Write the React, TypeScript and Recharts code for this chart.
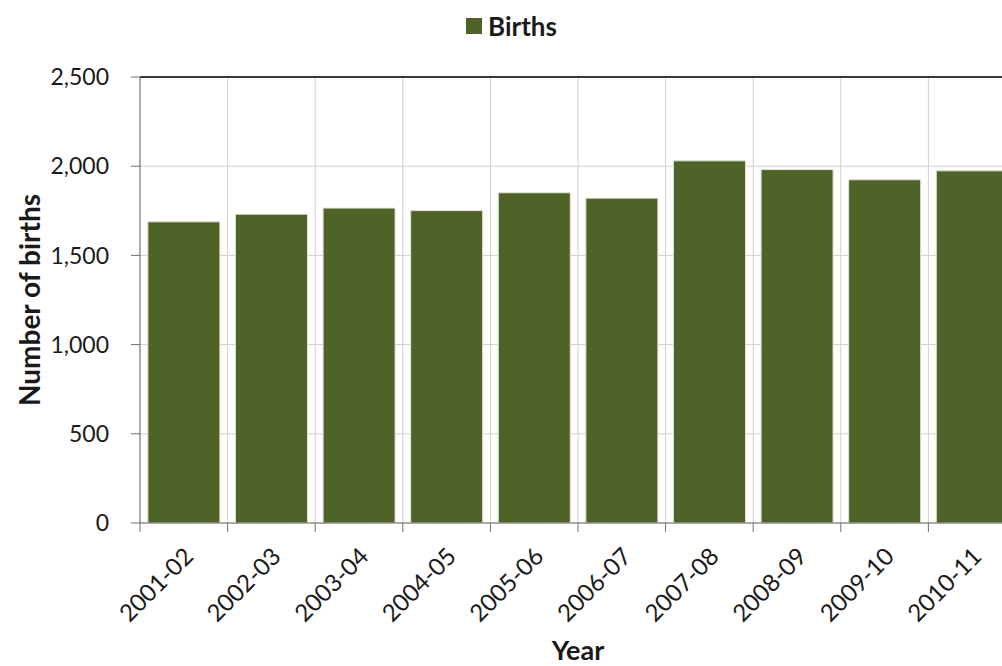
import {
  BarChart, Bar, XAxis, YAxis, CartesianGrid, ReferenceLine,
} from "recharts"

const years = [
  "2001-02", "2002-03", "2003-04", "2004-05", "2005-06",
  "2006-07", "2007-08", "2008-09", "2009-10", "2010-11",
]
const births = [1688, 1731, 1765, 1751, 1851, 1821, 2030, 1981, 1924, 1974]
const yTicks = [0, 500, 1000, 1500, 2000, 2500]

const data = years.map((year, i) => ({ year, births: births[i] }))

const CHART_W = 1020
const CHART_H = 666
const Y_AXIS_W = 140
const RIGHT = 4
const PLOT_W = CHART_W - Y_AXIS_W - RIGHT
const HALF_BAND = PLOT_W / years.length / 2

const FONT = "Lato, 'Open Sans', sans-serif"
const OLIVE = "#4f6228"
const AXIS = "#6e6e6e"

function YearTick({ x, y, payload }: any) {
  const tx = x + 11
  const ty = y + 35
  return (
    <g>
      <line x1={x - HALF_BAND} y1={y} x2={x - HALF_BAND} y2={y + 9} stroke={AXIS} />
      <text
        x={tx}
        y={ty}
        textAnchor="end"
        transform={`rotate(-45, ${tx}, ${ty})`}
        fill="#1a1a1a"
        fontSize={24}
        fontFamily={FONT}
      >
        {payload.value}
      </text>
    </g>
  )
}

export default function App() {
  return (
    <div
      style={{
        position: "absolute", top: 0, left: 0, width: 1002, height: 666,
        overflow: "hidden", background: "#fff", fontFamily: FONT,
      }}
    >
      {/* legend */}
      <div
        style={{
          position: "absolute", top: 10, left: 466, display: "flex",
          alignItems: "center", gap: 6, fontWeight: 700, fontSize: 26, color: "#1a1a1a",
        }}
      >
        <span style={{ width: 16, height: 16, background: OLIVE, display: "inline-block" }} />
        <span>Births</span>
      </div>

      <BarChart
        width={CHART_W}
        height={CHART_H}
        data={data}
        margin={{ top: 77, right: RIGHT, bottom: 0, left: 0 }}
        barCategoryGap="9%"
      >
        <CartesianGrid
          stroke="#d0d0d0"
          verticalCoordinatesGenerator={({ offset }: any) =>
            years.map((_, i) => offset.left + (i * offset.width) / years.length)
          }
        />
        <XAxis
          dataKey="year"
          height={143}
          tickLine={false}
          tickSize={0}
          tickMargin={0}
          interval={0}
          axisLine={{ stroke: AXIS }}
          tick={<YearTick />}
          label={{
            value: "Year", position: "insideBottom", offset: 6,
            style: { fontWeight: 700, fontSize: 27, fill: "#1a1a1a", fontFamily: FONT },
          }}
        />
        <YAxis
          width={Y_AXIS_W}
          domain={[0, 2500]}
          ticks={yTicks}
          tickSize={9}
          tickMargin={22}
          axisLine={{ stroke: AXIS }}
          tickLine={{ stroke: AXIS }}
          tick={{ fill: "#1a1a1a", fontSize: 23, fontFamily: FONT }}
          tickFormatter={(v: number) => v.toLocaleString("en-US")}
          label={{
            value: "Number of births", angle: -90, position: "insideLeft", offset: 30,
            style: { textAnchor: "middle", fontWeight: 700, fontSize: 28, fill: "#1a1a1a", fontFamily: FONT },
          }}
        />
        <ReferenceLine y={2500} stroke="#000" strokeWidth={1.5} />
        <Bar dataKey="births" fill={OLIVE} stroke="#dfe3d6" strokeWidth={1} isAnimationActive={false} />
      </BarChart>
    </div>
  )
}
